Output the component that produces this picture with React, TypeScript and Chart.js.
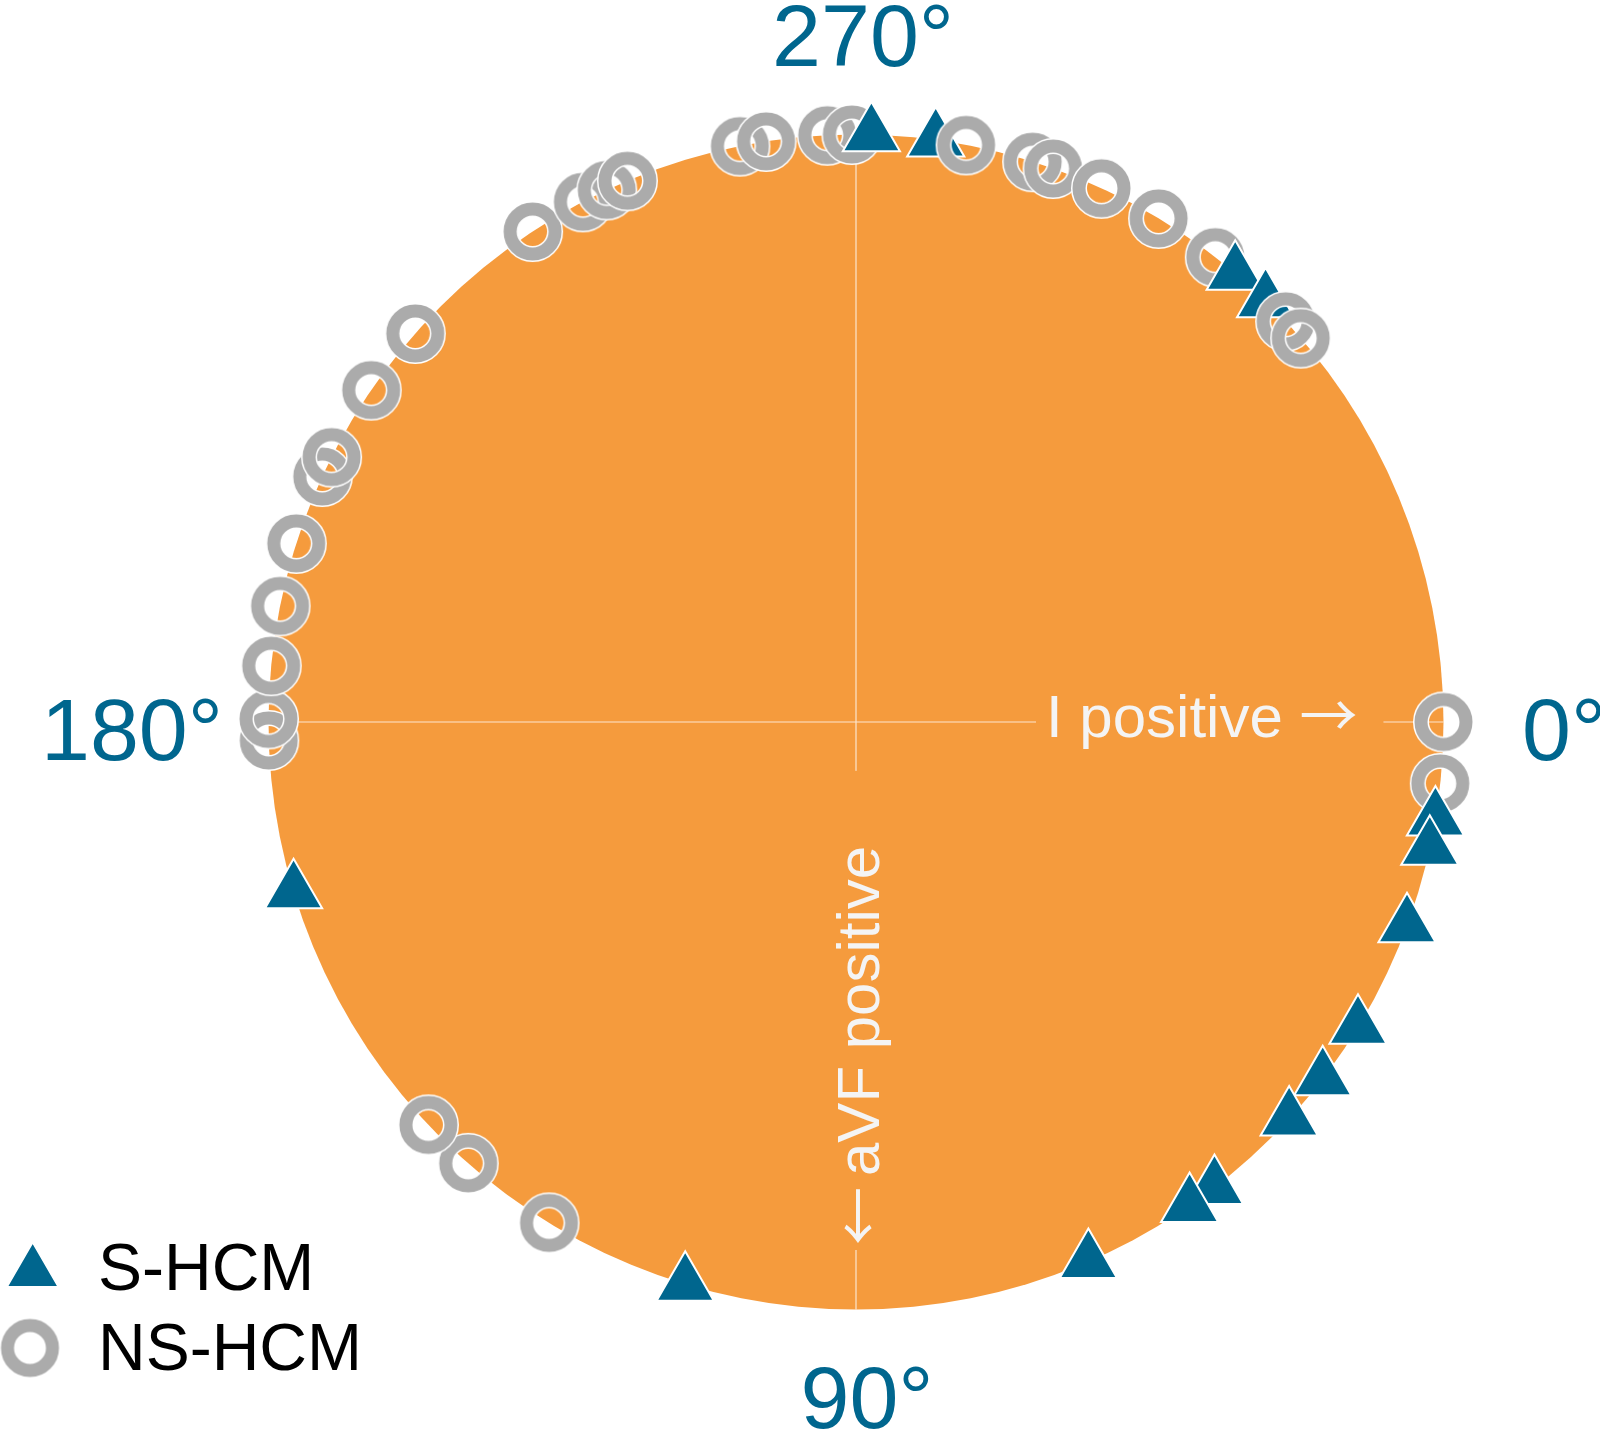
import React, { useEffect, useRef } from 'react';
import { Chart, registerables } from 'chart.js';

Chart.register(...registerables);

// QRS axis angles (degrees, 0° = right, 90° = down)
const sHcmAngles = [9.5, 12.4, 20.3, 31.3, 37.4, 42.5, 52.4, 55.4, 66.7, 106.9, 163.2, 271.5, 277.8, 310.2, 314.2];
const nsHcmAngles = [
  0, 6.0, 121.5, 131.3, 136.7, 178.2, 180.3, 185.5, 191.4, 197.7, 204.7, 206.8, 214.4, 221.4,
  236.6, 242.3, 244.9, 247.1, 258.6, 261.2, 267.2, 269.6, 280.8, 287.5, 289.6, 294.7, 301.0,
  307.7, 317.0, 319.2,
];
const seriesNames = ['S-HCM', 'NS-HCM'];
const angleTicks = [0, 90, 180, 270];
const angleTickLabels = ['0°', '90°', '180°', '270°'];
const directionWords = ['I positive', 'aVF positive'];
const directionArrows = ['→', '↓'];

const ORANGE = '#F59B3D';
const BLUE = '#00668E';
const GRAY = '#ABABAB';
const TEXT_WHITE = '#F4F4F4';
const FONT = "'Liberation Sans', Arial, Helvetica, sans-serif";
const ARROW_FONT = "'Noto Sans CJK JP', 'Noto Sans CJK SC', 'DejaVu Sans', sans-serif";

function makeRing(outerR: number, thick: number, outline: number): HTMLCanvasElement {
  const size = Math.ceil((outerR + outline) * 2) + 2;
  const c = document.createElement('canvas');
  c.width = size;
  c.height = size;
  const g = c.getContext('2d')!;
  const mid = size / 2;
  const r = outerR - thick / 2;
  g.beginPath();
  g.arc(mid, mid, r, 0, Math.PI * 2);
  g.lineWidth = thick + 2 * outline;
  g.strokeStyle = '#ffffff';
  g.stroke();
  g.lineWidth = thick;
  g.strokeStyle = GRAY;
  g.stroke();
  return c;
}

function drawTriangle(ctx: CanvasRenderingContext2D, x: number, y: number, r: number) {
  ctx.beginPath();
  let rad = 0;
  for (let i = 0; i < 3; i++) {
    const px = x + Math.sin(rad) * r;
    const py = y - Math.cos(rad) * r;
    if (i === 0) ctx.moveTo(px, py);
    else ctx.lineTo(px, py);
    rad += (2 * Math.PI) / 3;
  }
  ctx.closePath();
  ctx.fillStyle = BLUE;
  ctx.fill();
  ctx.strokeStyle = '#ffffff';
  ctx.lineWidth = 1.5;
  ctx.stroke();
}

export default function App() {
  const canvasRef = useRef<HTMLCanvasElement | null>(null);

  useEffect(() => {
    document.body.style.margin = '0';
    const canvas = canvasRef.current;
    if (!canvas) return;
    const ringImg = makeRing(29, 13, 1.5);

    const pts = [
      ...sHcmAngles.map((a) => ({ a, g: 0 })),
      ...nsHcmAngles.map((a) => ({ a, g: 1 })),
    ].sort((p, q) => p.a - q.a);

    const data = pts.map((p) => {
      const rad = (p.a * Math.PI) / 180;
      return { x: Math.cos(rad), y: Math.sin(rad), g: p.g };
    });

    const diskPlugin = {
      id: 'disk',
      beforeDatasetsDraw(chart: any) {
        const { ctx } = chart;
        const xs = chart.scales.x;
        const ys = chart.scales.y;
        const cx = xs.getPixelForValue(0);
        const cy = ys.getPixelForValue(0);
        const r = xs.getPixelForValue(1) - cx;
        ctx.save();
        ctx.fillStyle = ORANGE;
        ctx.beginPath();
        ctx.arc(cx, cy, r, 0, Math.PI * 2);
        ctx.fill();

        ctx.strokeStyle = 'rgba(255,255,255,0.75)';
        ctx.lineWidth = 1.2;
        ctx.beginPath();
        ctx.moveTo(cx - r, cy);
        ctx.lineTo(cx + r, cy);
        ctx.moveTo(cx, cy - r);
        ctx.lineTo(cx, cy + r);
        ctx.stroke();

        ctx.textAlign = 'left';
        ctx.textBaseline = 'alphabetic';
        const wordFont = `60px ${FONT}`;
        const arrowFont = `58px ${ARROW_FONT}`;

        // horizontal label: "I positive →"
        ctx.font = wordFont;
        const hWord = directionWords[0] + ' ';
        const hWordW = ctx.measureText(hWord).width;
        ctx.font = arrowFont;
        const hArrowW = ctx.measureText(directionArrows[0]).width;
        const hx = cx + 190;
        const hy = cy + 15;
        const hw = hWordW + hArrowW;
        ctx.fillStyle = ORANGE;
        ctx.fillRect(hx - 10, cy - 3, hw + 36, 6);
        ctx.fillStyle = TEXT_WHITE;
        ctx.font = wordFont;
        ctx.fillText(hWord, hx, hy);
        ctx.font = arrowFont;
        ctx.fillText(directionArrows[0], hx + hWordW, hy);

        // vertical label: "↓" then rotated "aVF positive"
        const vx = cx + 23;
        const arrowTop = cy + 470;
        const arrowBottom = cy + 518;
        ctx.font = wordFont;
        const vWord = directionWords[1];
        const vWordW = ctx.measureText(vWord).width;
        const wordStart = arrowTop - 16;
        ctx.fillStyle = ORANGE;
        ctx.fillRect(cx - 3, wordStart - vWordW - 75, 6, arrowBottom + 10 - (wordStart - vWordW - 75));
        ctx.fillStyle = TEXT_WHITE;
        ctx.font = arrowFont;
        ctx.textAlign = 'center';
        ctx.textBaseline = 'middle';
        ctx.fillText(directionArrows[1], cx + 2, (arrowTop + arrowBottom) / 2);
        ctx.textAlign = 'left';
        ctx.textBaseline = 'alphabetic';
        ctx.save();
        ctx.translate(vx, wordStart);
        ctx.rotate(-Math.PI / 2);
        ctx.font = wordFont;
        ctx.fillText(vWord, 0, 0);
        ctx.restore();
        ctx.restore();
      },
      afterDatasetsDraw(chart: any) {
        const { ctx } = chart;
        const xs = chart.scales.x;
        const ys = chart.scales.y;
        const cx = xs.getPixelForValue(0);
        const cy = ys.getPixelForValue(0);
        ctx.save();
        ctx.font = `88px ${FONT}`;
        ctx.fillStyle = BLUE;
        ctx.textBaseline = 'alphabetic';
        angleTicks.forEach((a, i) => {
          const label = angleTickLabels[i];
          if (a === 0) {
            ctx.textAlign = 'left';
            ctx.fillText(label, cx + 666, cy + 38);
          } else if (a === 90) {
            ctx.textAlign = 'center';
            ctx.fillText(label, cx + 11, cy + 706);
          } else if (a === 180) {
            ctx.textAlign = 'right';
            ctx.fillText(label, cx - 633, cy + 38);
          } else {
            ctx.textAlign = 'center';
            ctx.fillText(label, cx + 7, cy - 656);
          }
        });

        // legend
        drawTriangle(ctx, 32.7, 1272, 29.4);
        ctx.drawImage(ringImg, 30 - ringImg.width / 2, 1348 - ringImg.height / 2);
        ctx.font = `66px ${FONT}`;
        ctx.fillStyle = '#000000';
        ctx.textAlign = 'left';
        ctx.fillText(seriesNames[0], 98, 1290);
        ctx.fillText(seriesNames[1], 98, 1370);
        ctx.restore();
      },
    };

    const PX = 587.5;
    const CX = 856;
    const CY = 722;

    const chart = new Chart(canvas, {
      type: 'scatter',
      data: {
        datasets: [
          {
            label: 'HCM',
            data: data as any,
            pointStyle: (c: any) => (c.raw && c.raw.g === 0 ? 'triangle' : ringImg),
            pointRadius: (c: any) => (c.raw && c.raw.g === 0 ? 33 : 22),
            pointBackgroundColor: BLUE,
            pointBorderColor: '#ffffff',
            pointBorderWidth: (c: any) => (c.raw && c.raw.g === 0 ? 2 : 0),
            showLine: false,
            clip: false as any,
          } as any,
        ],
      },
      options: {
        responsive: false,
        animation: false,
        events: [],
        layout: { padding: 0, autoPadding: false },
        scales: {
          x: { type: 'linear', display: false, bounds: 'data', min: -CX / PX, max: (1600 - CX) / PX },
          y: { type: 'linear', display: false, bounds: 'data', reverse: true, min: -CY / PX, max: (1434 - CY) / PX },
        },
        plugins: {
          legend: { display: false },
          tooltip: { enabled: false },
        },
      },
      plugins: [diskPlugin],
    });

    return () => chart.destroy();
  }, []);

  return (
    <div style={{ position: 'absolute', left: 0, top: 0, width: 1600, height: 1434, background: '#ffffff' }}>
      <canvas ref={canvasRef} width={1600} height={1434} style={{ display: 'block' }} />
    </div>
  );
}
